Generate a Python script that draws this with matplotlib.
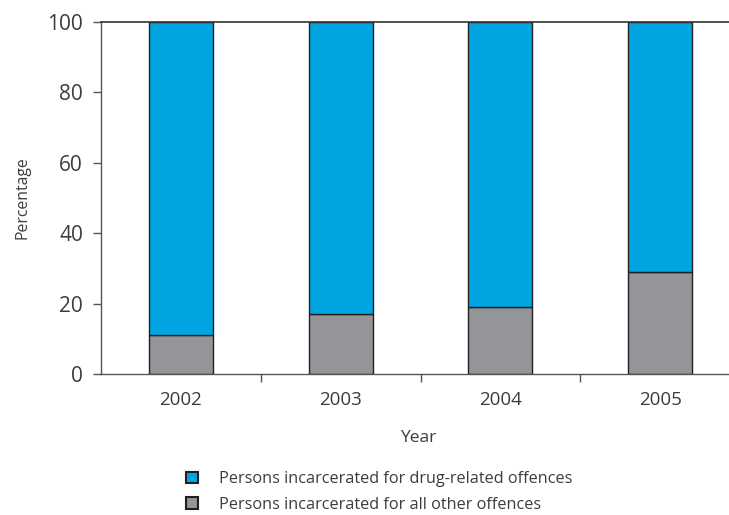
import numpy as np
import matplotlib
matplotlib.use("Agg")
import matplotlib.pyplot as plt
from matplotlib.patches import Patch

plt.rcParams['font.family'] = ['Open Sans', 'DejaVu Sans']

years = ["2002", "2003", "2004", "2005"]
other_offences = [11, 17, 19, 29]
drug_offences = [100 - v for v in other_offences]
legend_labels = ["Persons incarcerated for drug-related offences",
                 "Persons incarcerated for all other offences"]

blue = "#00a5e1"
grey = "#939598"
edge = "#231f20"
txt = "#3c3c3c"

fig = plt.figure(figsize=(7.29, 5.15), dpi=100)
# axes extends past right edge of the picture, as in the reference
ax = fig.add_axes([101/729, 1 - 374/515, 639/729, 352/515])

x = np.arange(len(years))
ax.bar(x, other_offences, width=0.4, color=grey, edgecolor=edge, linewidth=1)
ax.bar(x, drug_offences, width=0.4, bottom=other_offences, color=blue,
       edgecolor=edge, linewidth=1)

ax.set_xlim(-0.5, len(years) - 0.5)
ax.set_ylim(0, 100)
ax.set_yticks([0, 20, 40, 60, 80, 100])
ax.set_xticks(x)
ax.set_xticklabels(years)
ax.set_xticks(np.arange(0.5, len(years) - 0.5, 1), minor=True)
ax.tick_params(axis='x', which='major', length=0, pad=12, labelsize=13.5, labelcolor=txt)
ax.tick_params(axis='x', which='minor', length=6, width=1, color="#555555")
ax.tick_params(axis='y', length=6, width=1, color="#555555", labelsize=15,
               labelcolor=txt, pad=7)

for s in ['left', 'bottom']:
    ax.spines[s].set_color("#555555")
    ax.spines[s].set_linewidth(1)
ax.spines['top'].set_color("#333333")
ax.spines['top'].set_linewidth(1.2)
ax.spines['right'].set_visible(False)

ax.set_ylabel("Percentage", fontsize=11.3, color=txt, labelpad=12)
fig.text(0.573, 1 - 438/515, "Year", fontsize=12.5, color=txt, ha='center', va='center')

handles = [Patch(facecolor=blue, edgecolor=edge, linewidth=1.5),
           Patch(facecolor=grey, edgecolor=edge, linewidth=1.5)]
fig.legend(handles, legend_labels, loc='center left', bbox_to_anchor=(178/729, 1 - 492/515),
           frameon=False, fontsize=11.7, labelcolor=txt, handlelength=0.75,
           handleheight=0.75, handletextpad=1.3, labelspacing=0.6, borderpad=0)

fig.savefig("out.png", dpi=100)
